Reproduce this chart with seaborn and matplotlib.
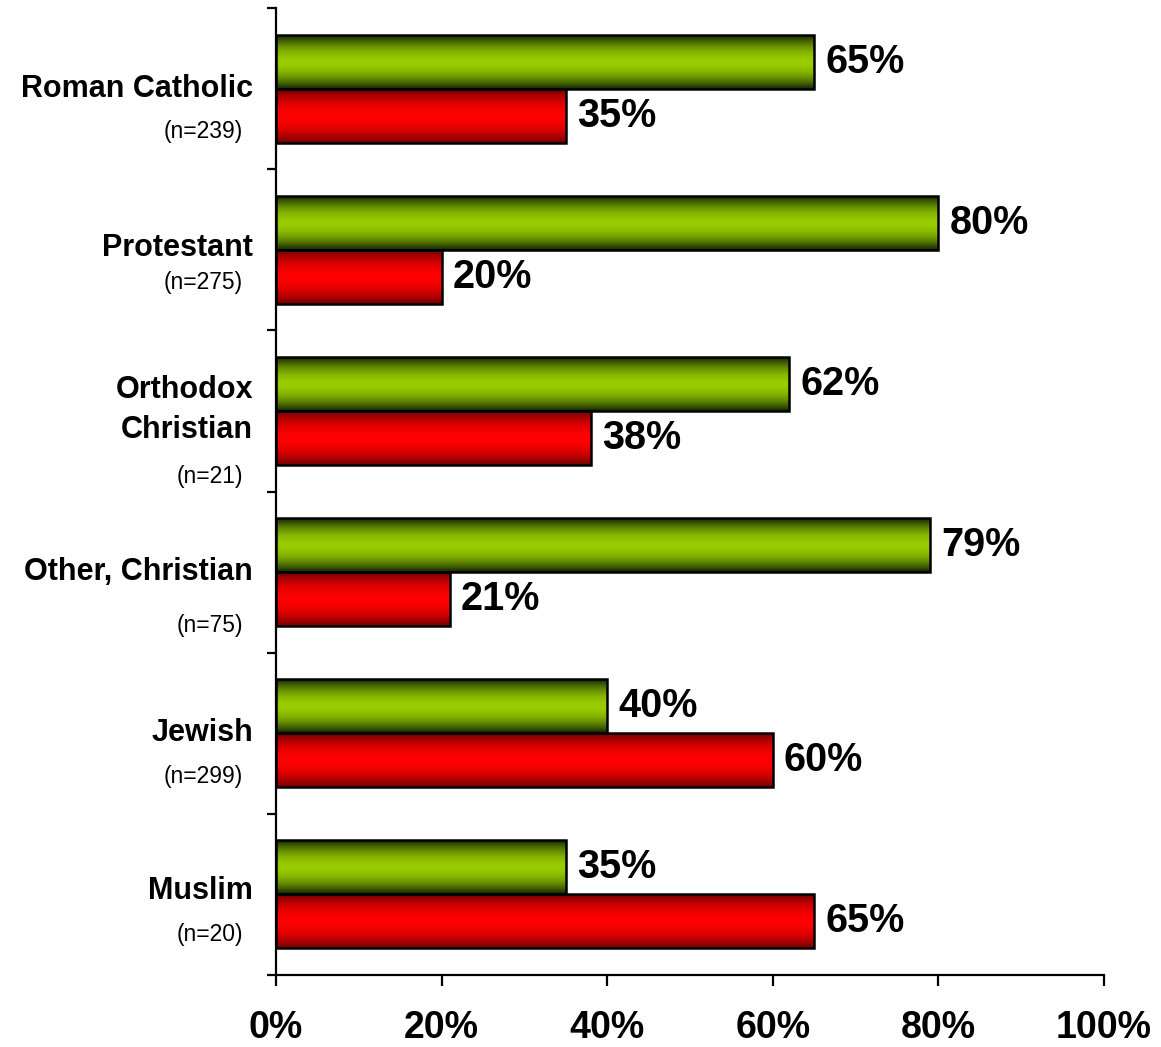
import numpy as np
import pandas as pd
import matplotlib
matplotlib.use("Agg")
import matplotlib.pyplot as plt
import seaborn as sns
from matplotlib.colors import LinearSegmentedColormap, to_rgb

# ---------------- data ----------------
categories = ["Roman Catholic", "Protestant", "Orthodox\nChristian",
              "Other, Christian", "Jewish", "Muslim"]
sample_sizes = ["(n=239)", "(n=275)", "(n=21)", "(n=75)", "(n=299)", "(n=20)"]
series_names = ["Green", "Red"]
green_values = [65, 80, 62, 79, 40, 35]
red_values = [35, 20, 38, 21, 60, 65]
x_ticks = [0, 20, 40, 60, 80, 100]

df = pd.DataFrame({
    "category": categories * 2,
    "series": [series_names[0]] * 6 + [series_names[1]] * 6,
    "value": green_values + red_values,
})

# ---------------- style ----------------
sns.set_theme(style="white")
plt.rcParams["font.family"] = ["Liberation Sans", "DejaVu Sans"]
plt.rcParams["text.color"] = "black"
plt.rcParams["xtick.color"] = "black"
plt.rcParams["ytick.color"] = "black"

bright = {"Green": "#99cc00", "Red": "#ff0000"}
dark = {"Green": "#102200", "Red": "#700000"}

fig = plt.figure(figsize=(11.61, 10.47), dpi=100)
ax = fig.add_axes([276 / 1161, 1 - 975 / 1047, 828 / 1161, 967 / 1047])

sns.barplot(data=df, x="value", y="category", hue="series", orient="h",
            order=categories, hue_order=series_names,
            palette=[bright[s] for s in series_names],
            width=0.67, gap=0, edgecolor="black", linewidth=1.8,
            legend=False, ax=ax)

# vertical gradient fill for each bar
def make_cmap(name):
    b = np.array(to_rgb(bright[name]))
    d = np.array(to_rgb(dark[name]))
    t = np.linspace(0, 1, 256)
    s = np.abs(2 * t - 1) ** 1.9
    cols = b[None, :] * (1 - s[:, None]) + d[None, :] * s[:, None]
    return LinearSegmentedColormap.from_list(name, cols)

cmaps = {s: make_cmap(s) for s in series_names}
grad = np.linspace(0, 1, 256).reshape(-1, 1)
for cont, sname in zip(ax.containers, series_names):
    for patch in cont.patches:
        x0, y0 = patch.get_x(), patch.get_y()
        w, h = patch.get_width(), patch.get_height()
        im = ax.imshow(grad, cmap=cmaps[sname], aspect="auto",
                       extent=[x0, x0 + w, y0 + h, y0], zorder=2,
                       interpolation="bilinear")
        im.set_clip_path(patch)
        patch.set_facecolor("none")
        patch.set_zorder(3)

ax.set_xlim(0, 100)
ax.set_ylim(len(categories) - 0.5, -0.5)

# value labels
for cont in ax.containers:
    ax.bar_label(cont, fmt="%d%%", padding=8, fontsize=28.5,
                 fontweight="bold", color="black")

# axes styling
for side in ["top", "right"]:
    ax.spines[side].set_visible(False)
for side in ["left", "bottom"]:
    ax.spines[side].set_color("black")
    ax.spines[side].set_linewidth(1.6)

ax.set_xticks(x_ticks)
ax.set_xticklabels([f"{v}%" for v in x_ticks], fontsize=27, fontweight="bold",
                   color="black")
ax.tick_params(axis="x", direction="out", length=8, width=1.6, color="black",
               pad=17, bottom=True, labelcolor="black")
ax.set_yticks(np.arange(-0.5, len(categories), 1.0))
ax.set_yticklabels([])
ax.tick_params(axis="y", direction="out", length=6.5, width=1.6,
               color="black", left=True)
ax.set_xlabel("")
ax.set_ylabel("")
ax.grid(False)

# category labels (layout offsets in pixels)
name_dy = [0, -2, -1, 0, 0, -3]
n_dy = [43, 33, 66, 53, 43, 40]
ytr = ax.get_yaxis_transform()
for i, (name, n) in enumerate(zip(categories, sample_sizes)):
    ax.annotate(name, xy=(0, i), xycoords=ytr,
                xytext=(-23 * 0.72, -name_dy[i] * 0.72),
                textcoords="offset points", ha="right", va="center",
                fontsize=22, fontweight="bold", linespacing=1.4,
                multialignment="right", color="black")
    ax.annotate(n, xy=(0, i), xycoords=ytr,
                xytext=(-33 * 0.72, -n_dy[i] * 0.72),
                textcoords="offset points", ha="right", va="center",
                fontsize=16.5, color="black")

fig.savefig("out.png", dpi=100, facecolor="white")
